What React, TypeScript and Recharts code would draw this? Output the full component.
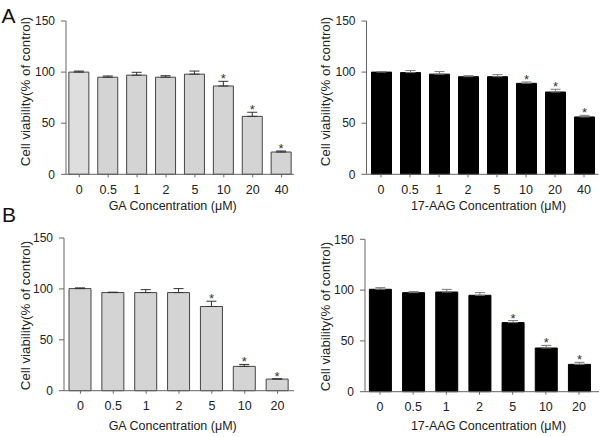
import React from "react";
import { BarChart, Bar, XAxis, YAxis, ErrorBar, LabelList, Label, Cell } from "recharts";

const CONC_A = ["0", "0.5", "1", "2", "5", "10", "20", "40"];
const CONC_B = ["0", "0.5", "1", "2", "5", "10", "20"];

const GA_A = [100, 95, 97, 95, 98, 86.4, 56.7, 21.8];
const GA_A_ERR = [1, 1.2, 2.8, 1.5, 3, 4.6, 4, 1];
const GA_A_SIG = [0, 0, 0, 0, 0, 1, 1, 1];

const AAG_A = [100, 99.5, 98, 95.5, 95.5, 89, 80.5, 56.1];
const AAG_A_ERR = [0.6, 2, 2.5, 1, 2, 1.3, 2.7, 1.6];
const AAG_A_SIG = [0, 0, 0, 0, 0, 1, 1, 1];

const GA_B = [100.3, 96.4, 96.4, 96.4, 82.7, 23.9, 11.4];
const GA_B_ERR = [0.7, 0.4, 2.9, 3.9, 5.2, 1.9, 0.4];
const GA_B_SIG = [0, 0, 0, 0, 1, 1, 1];

const AAG_B = [100.8, 97.5, 98.1, 94.9, 68, 43, 26.9];
const AAG_B_ERR = [1.6, 1, 2.6, 2.6, 2, 2.6, 2];
const AAG_B_SIG = [0, 0, 0, 0, 1, 1, 1];

const Y_TICKS = [0, 50, 100, 150];
const Y_TITLE = "Cell viability(% of control)";
const FONT = '"Liberation Sans", Arial, sans-serif';
const AXIS = "#666";
const INK = "#222";

interface PanelProps {
  left: number;
  top: number;
  width: number;
  height: number;
  margin: { top: number; right: number; bottom: number; left: number };
  padding: { left: number; right: number };
  categories: string[];
  values: number[];
  errs: number[];
  sig: number[];
  fill: string;
  firstFill?: string;
  stroke: string;
  errColor: string;
  barSize: number;
  tickMargin: number;
  xTitle: string;
  xTitlePos: [number, number];
  yTitlePos: [number, number];
}

function Panel(p: PanelProps) {
  const data = p.categories.map((c, i) => ({
    conc: c,
    viability: p.values[i],
    err: [0, p.errs[i]],
  }));

  // asterisk just above the error bar cap
  const star = (props: any) => {
    const i = props.index ?? p.values.indexOf(props.value);
    if (i < 0 || !p.sig[i]) return null;
    const vb = props.viewBox || props;
    const h = Math.abs(vb.height);
    const top = Math.min(vb.y, vb.y + vb.height);
    const pxPerUnit = h / p.values[i];
    const y = top - p.errs[i] * pxPerUnit;
    return (
      <text x={vb.x + vb.width / 2} y={y + 2} textAnchor="middle" fontSize={13} fill="#333">
        *
      </text>
    );
  };

  const [yx, yy] = p.yTitlePos;
  const [xx, xy] = p.xTitlePos;

  return (
    <div style={{ position: "absolute", left: p.left, top: p.top, width: p.width, height: p.height }}>
      <BarChart width={p.width} height={p.height} data={data} margin={p.margin} barSize={p.barSize}>
        <XAxis
          dataKey="conc"
          interval={0}
          height={40}
          padding={p.padding}
          tickSize={3}
          tickMargin={p.tickMargin}
          stroke={AXIS}
          tick={{ fill: INK, fontSize: 12.5 }}
        >
          <Label
            content={() => (
              <text x={xx} y={xy} textAnchor="middle" dominantBaseline="central" fontSize={12.5} fill={INK}>
                {p.xTitle}
              </text>
            )}
          />
        </XAxis>
        <YAxis
          domain={[0, 150]}
          ticks={Y_TICKS}
          width={40}
          tickSize={5}
          tickMargin={6}
          stroke={AXIS}
          tick={{ fill: INK, fontSize: 12 }}
        >
          <Label
            content={() => (
              <text
                x={yx}
                y={yy}
                transform={`rotate(-90 ${yx} ${yy})`}
                textAnchor="middle"
                dominantBaseline="central"
                fontSize={13.3}
                fill={INK}
              >
                {Y_TITLE}
              </text>
            )}
          />
        </YAxis>
        <Bar dataKey="viability" fill={p.fill} stroke={p.stroke} strokeWidth={1} isAnimationActive={false}>
          {data.map((_, i) => (
            <Cell key={i} fill={i === 0 && p.firstFill ? p.firstFill : p.fill} />
          ))}
          <ErrorBar dataKey="err" direction="y" width={5} stroke={p.errColor} strokeWidth={1} isAnimationActive={false} />
          <LabelList dataKey="viability" content={star} />
        </Bar>
      </BarChart>
    </div>
  );
}

export default function App() {
  return (
    <div
      style={{
        position: "absolute",
        left: 0,
        top: 0,
        width: 600,
        height: 437,
        background: "#fff",
        fontFamily: FONT,
        overflow: "hidden",
      }}
    >
      <div style={{ position: "absolute", left: 1.5, top: 5.3, fontSize: 21, lineHeight: "21px", color: "#111" }}>A</div>
      <div style={{ position: "absolute", left: 2, top: 204, fontSize: 21, lineHeight: "21px", color: "#111" }}>B</div>

      <Panel
        left={0}
        top={0}
        width={300}
        height={215}
        margin={{ top: 21, right: 6, bottom: 0.7, left: 26 }}
        padding={{ left: -1.15, right: -2.05 }}
        categories={CONC_A}
        values={GA_A}
        errs={GA_A_ERR}
        sig={GA_A_SIG}
        fill="#d4d4d4"
        firstFill="#dedede"
        stroke="#444"
        errColor="#333"
        barSize={20}
        tickMargin={8}
        xTitle="GA Concentration (μM)"
        xTitlePos={[172.7, 206.3]}
        yTitlePos={[25.5, 91.5]}
      />
      <Panel
        left={300}
        top={0}
        width={300}
        height={215}
        margin={{ top: 21, right: 1.5, bottom: 0.7, left: 26.5 }}
        padding={{ left: 0, right: 0 }}
        categories={CONC_A}
        values={AAG_A}
        errs={AAG_A_ERR}
        sig={AAG_A_SIG}
        fill="#000"
        stroke="#000"
        errColor="#777"
        barSize={20}
        tickMargin={8}
        xTitle="17-AAG Concentration (μM)"
        xTitlePos={[188.5, 206.3]}
        yTitlePos={[25.5, 91.5]}
      />
      <Panel
        left={0}
        top={217}
        width={300}
        height={220}
        margin={{ top: 21, right: 6, bottom: 6.3, left: 24 }}
        padding={{ left: 0, right: 0 }}
        categories={CONC_B}
        values={GA_B}
        errs={GA_B_ERR}
        sig={GA_B_SIG}
        fill="#d4d4d4"
        stroke="#444"
        errColor="#333"
        barSize={22}
        tickMargin={7}
        xTitle="GA Concentration (μM)"
        xTitlePos={[172.7, 209.3]}
        yTitlePos={[25.5, 98.5]}
      />
      <Panel
        left={300}
        top={217}
        width={300}
        height={220}
        margin={{ top: 22.3, right: 1, bottom: 5.3, left: 25 }}
        padding={{ left: -1.6, right: 3.4 }}
        categories={CONC_B}
        values={AAG_B}
        errs={AAG_B_ERR}
        sig={AAG_B_SIG}
        fill="#000"
        stroke="#000"
        errColor="#777"
        barSize={22}
        tickMargin={7}
        xTitle="17-AAG Concentration (μM)"
        xTitlePos={[188.5, 209.3]}
        yTitlePos={[25.5, 99.5]}
      />
    </div>
  );
}
